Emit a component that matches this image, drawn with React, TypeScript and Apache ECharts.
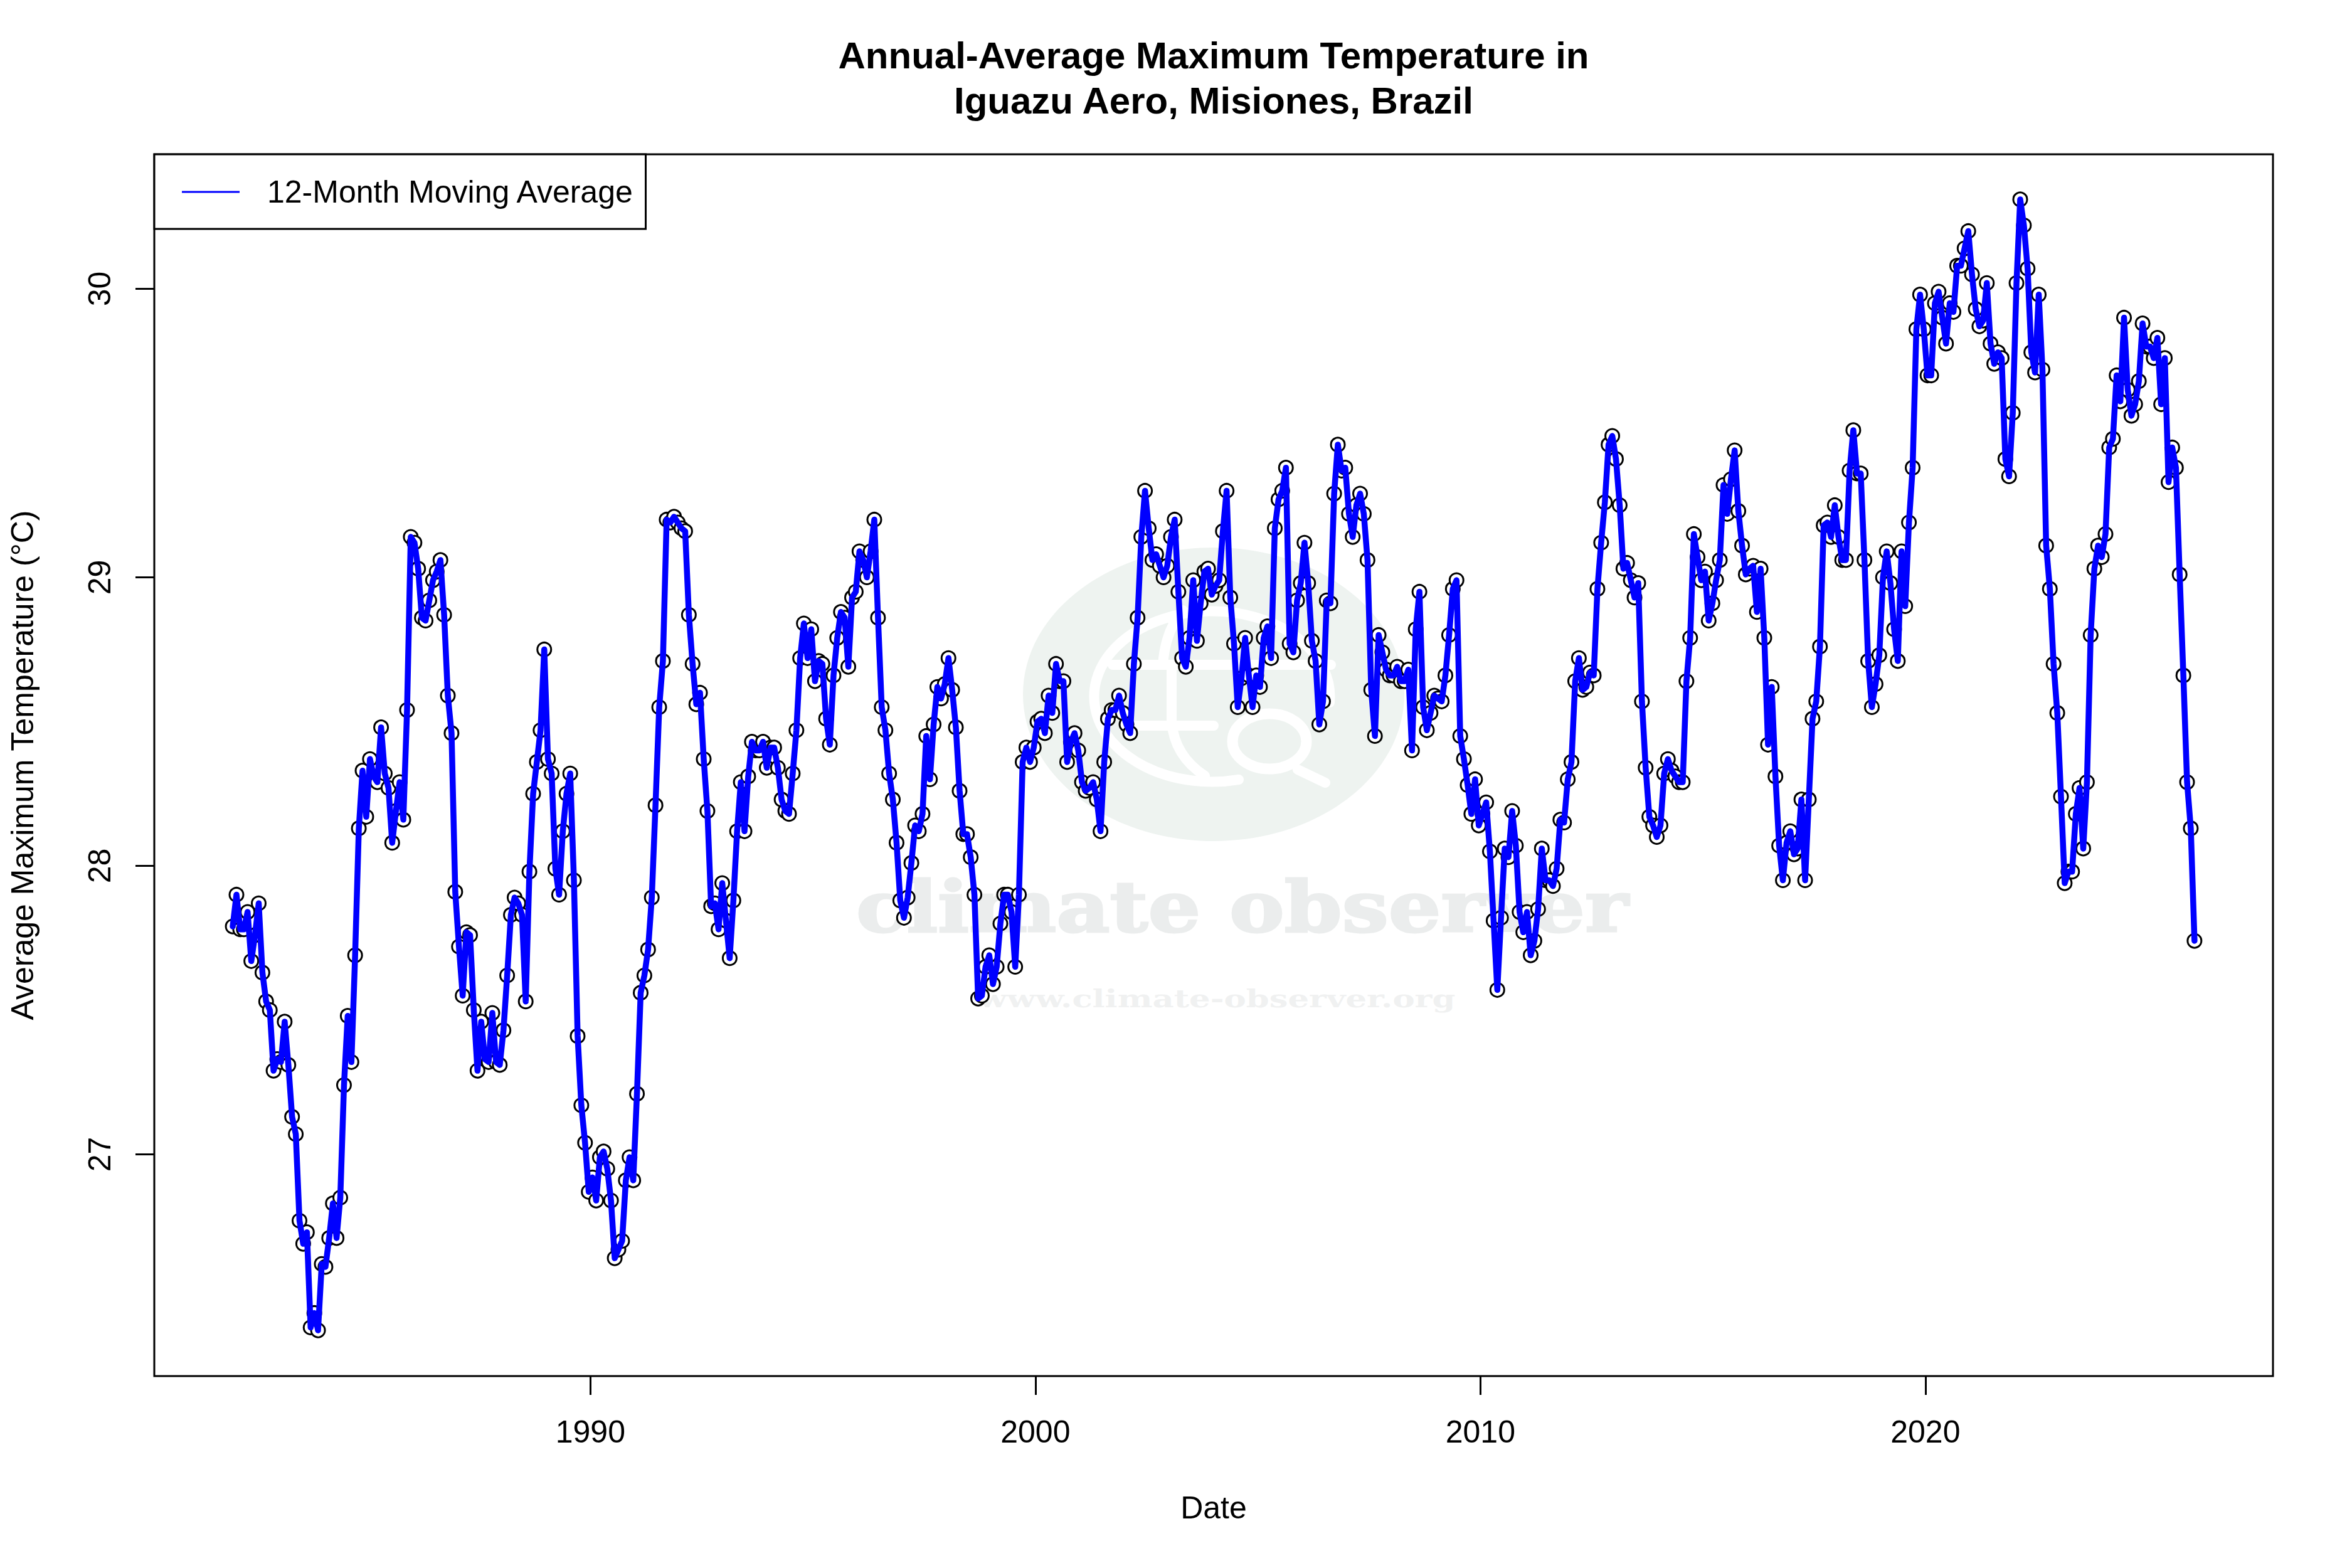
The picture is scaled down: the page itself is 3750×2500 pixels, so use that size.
import React, { useEffect, useRef } from "react";
import * as echarts from "echarts";

const titleText = "Annual-Average Maximum Temperature in\nIguazu Aero, Misiones, Brazil";
const legendLabel = "12-Month Moving Average";
const xTicks = [1990, 2000, 2010, 2020];
const yTicks = [27, 28, 29, 30];
const firstYear = 1981.963;

const temps1 = [
  27.79,27.90,27.78,27.78,27.84,27.67,27.76,27.87,27.63,27.53,27.50,27.29,
  27.33,27.32,27.46,27.31,27.13,27.07,26.77,26.69,26.73,26.40,26.45,26.39,
  26.62,26.61,26.71,26.83,26.71,26.85,27.24,27.48,27.32,27.69,28.13,28.33,
  28.17,28.37,28.31,28.29,28.48,28.32,28.27,28.08,28.19,28.29,28.16,28.54,
  29.14,29.12,29.03,28.86,28.85,28.92,28.99,29.02,29.06,28.87,28.59,28.46,
  27.91,27.72,27.55,27.77,27.76,27.50,27.29,27.46,27.33,27.32,27.49,27.32,
  27.31,27.43,27.62,27.83,27.89,27.87,27.83,27.53,27.98,28.25,28.36,28.47,
  28.75,28.37,28.32,27.99,27.90,28.12,28.25,28.32,27.95,27.41,27.17,27.04,
  26.87,26.92,26.84,26.99,27.01,26.95,26.84,26.64,26.67,26.70,26.91,26.99,
];
const temps2 = [
  26.91,27.21,27.56,27.62,27.71,27.89,28.21,28.55,28.71,29.20,29.19,29.21,
  29.19,29.17,29.16,28.87,28.70,28.56,28.60,28.37,28.19,27.86,27.87,27.78,
  27.94,27.81,27.68,27.88,28.12,28.29,28.12,28.31,28.43,28.40,28.40,28.43,
  28.34,28.41,28.41,28.34,28.23,28.19,28.18,28.32,28.47,28.72,28.84,28.72,
  28.82,28.64,28.71,28.70,28.51,28.42,28.66,28.79,28.88,28.86,28.69,28.93,
  28.95,29.09,29.06,29.00,29.09,29.20,28.86,28.55,28.47,28.32,28.23,28.08,
  27.88,27.82,27.89,28.01,28.14,28.12,28.18,28.45,28.30,28.49,28.62,28.58,
  28.63,28.72,28.61,28.48,28.26,28.11,28.11,28.03,27.90,27.54,27.55,27.65,
  27.69,27.59,27.65,27.80,27.90,27.90,27.84,27.65,27.90,28.36,28.41,28.36,
];
const temps3 = [
  28.41,28.50,28.51,28.46,28.59,28.53,28.70,28.64,28.64,28.36,28.43,28.46,
  28.40,28.29,28.26,28.27,28.29,28.23,28.12,28.36,28.51,28.54,28.54,28.59,
  28.53,28.49,28.46,28.70,28.86,29.14,29.30,29.17,29.06,29.08,29.04,29.00,
  29.04,29.14,29.20,28.95,28.72,28.69,28.79,28.99,28.78,28.91,29.02,29.03,
  28.94,28.97,28.99,29.16,29.30,28.93,28.77,28.55,28.65,28.79,28.66,28.55,
  28.66,28.62,28.79,28.83,28.72,29.17,29.27,29.30,29.38,28.77,28.74,28.92,
  28.98,29.12,28.98,28.78,28.71,28.49,28.57,28.92,28.91,29.29,29.46,29.37,
  29.38,29.22,29.14,29.25,29.29,29.22,29.06,28.61,28.45,28.80,28.74,28.68,
  28.66,28.66,28.69,28.64,28.64,28.68,28.40,28.82,28.95,28.55,28.47,28.53,
];
const temps4 = [
  28.59,28.58,28.57,28.66,28.80,28.96,28.99,28.45,28.37,28.28,28.18,28.30,
  28.14,28.18,28.22,28.05,27.81,27.57,27.82,28.06,28.03,28.19,28.07,27.84,
  27.77,27.84,27.69,27.74,27.85,28.06,27.95,27.95,27.93,27.99,28.16,28.15,
  28.30,28.36,28.64,28.72,28.61,28.62,28.67,28.66,28.96,29.12,29.26,29.46,
  29.49,29.41,29.25,29.03,29.05,28.99,28.93,28.98,28.57,28.34,28.17,28.14,
  28.10,28.14,28.32,28.37,28.33,28.31,28.29,28.29,28.64,28.79,29.15,29.07,
  28.99,29.02,28.85,28.91,28.99,29.06,29.32,29.22,29.34,29.44,29.23,29.11,
  29.01,29.03,29.04,28.88,29.03,28.79,28.42,28.62,28.31,28.07,27.95,28.08,
];
const temps5 = [
  28.12,28.04,28.06,28.23,27.95,28.23,28.51,28.57,28.76,29.18,29.19,29.14,
  29.25,29.14,29.06,29.06,29.37,29.51,29.36,29.36,29.06,28.71,28.55,28.63,
  28.73,29.00,29.09,28.98,28.82,28.71,29.09,28.90,29.19,29.38,29.86,29.98,
  29.86,29.70,29.70,29.95,29.99,29.90,29.81,29.95,29.92,30.08,30.08,30.14,
  30.20,30.05,29.93,29.87,29.89,30.02,29.81,29.74,29.78,29.76,29.41,29.35,
  29.57,30.02,30.31,30.22,30.07,29.78,29.71,29.98,29.72,29.11,28.96,28.70,
  28.53,28.24,27.94,27.98,27.98,28.18,28.27,28.06,28.29,28.80,29.03,29.11,
  29.07,29.15,29.45,29.48,29.70,29.61,29.90,29.65,29.56,29.60,29.68,29.88,
  29.80,29.80,29.76,29.83,29.60,29.76,29.33,29.45,29.38,29.01,28.66,28.29,
  28.13,27.74,
];

const temps = [...temps1, ...temps2, ...temps3, ...temps4, ...temps5];
const points = temps.map((v, i) => [firstYear + i / 12, v]);

const FONT = "Liberation Sans";
const WM = "DejaVu Serif";

echarts.graphic.registerShape(
  "logoStrokes",
  echarts.graphic.extendPath(
    "M1975 1243 A188 136 0 1 1 2120 1120 M1774 1060 L2122 1060 M1810 1157 L1935 1157 M1868 1067 L1868 1150 Q1872 1205 1921 1237 M1886 973 Q1858 1005 1854 1060 M2069 1227 L2113 1248",
    {}
  )
);

export default function App() {
  const ref = useRef<HTMLDivElement>(null);
  useEffect(() => {
    const chart = echarts.init(ref.current!, null, { renderer: "svg", width: 3750, height: 2500 });
    chart.setOption({
      animation: false,
      backgroundColor: "#ffffff",
      title: {
        text: titleText,
        left: 1930,
        top: 47,
        textAlign: "center",
        textStyle: { fontFamily: FONT, fontWeight: "bold", fontSize: 60, lineHeight: 72, color: "#000" },
      },
      legend: {
        left: 246,
        top: 246,
        data: [{ name: legendLabel, icon: "rect" }],
        orient: "horizontal",
        padding: [35, 18, 34, 44],
        itemWidth: 92,
        itemHeight: 3,
        itemGap: 0,
        borderColor: "#000",
        borderWidth: 3,
        borderRadius: 0,
        backgroundColor: "#fff",
        textStyle: { fontFamily: FONT, fontSize: 50, color: "#000", padding: [0, 0, 0, 39] },
      },
      grid: {
        left: 246, top: 246, width: 3378, height: 1948, show: true,
        borderColor: "#000", borderWidth: 3, backgroundColor: "transparent",
        outerBoundsMode: "none",
      },
      xAxis: {
        type: "value",
        min: 1980.2,
        max: 2027.81,
        name: "Date",
        nameLocation: "middle",
        nameGap: 185,
        nameTextStyle: { fontFamily: FONT, fontSize: 50, color: "#000" },
        axisLine: { show: false },
        splitLine: { show: false },
        axisTick: { show: true, length: 30, customValues: xTicks, lineStyle: { color: "#000", width: 3 } },
        axisLabel: { customValues: xTicks, margin: 64, fontFamily: FONT, fontSize: 50, color: "#000", formatter: (v: number) => String(v) },
      },
      yAxis: {
        type: "value",
        min: 26.2315,
        max: 30.4663,
        name: "Average Maximum Temperature (°C)",
        nameLocation: "middle",
        nameGap: 185,
        nameTextStyle: { fontFamily: FONT, fontSize: 50, color: "#000" },
        axisLine: { show: false },
        splitLine: { show: false },
        axisTick: { show: true, length: 30, customValues: yTicks, lineStyle: { color: "#000", width: 3 } },
        axisLabel: { customValues: yTicks, rotate: 90, margin: 62, fontFamily: FONT, fontSize: 50, color: "#000", formatter: (v: number) => String(v) },
      },
      graphic: [
        { type: "ellipse", silent: true, z: 0, shape: { cx: 1935, cy: 1107, rx: 304, ry: 234 }, style: { fill: "#EEF3F0" } },
        { type: "logoStrokes", silent: true, z: 0, style: { fill: "none", stroke: "#ffffff", lineWidth: 16, lineCap: "round" } },
        { type: "ellipse", silent: true, z: 0, shape: { cx: 2024, cy: 1182, rx: 59, ry: 44 }, style: { fill: "none", stroke: "#ffffff", lineWidth: 17 } },
        {
          type: "text", silent: true, z: 0, x: 1365, y: 1502, scaleX: 1.175,
          style: { text: "climate observer", font: `bold 112px '${WM}'`, fill: "#EBEDED", stroke: "#EBEDED", lineWidth: 3, textAlign: "left", textVerticalAlign: "bottom" },
        },
        {
          type: "text", silent: true, z: 0, x: 1560, y: 1612, scaleX: 1.32,
          style: { text: "www.climate-observer.org", font: `bold 40px '${WM}'`, fill: "#F0F1F1", textAlign: "left", textVerticalAlign: "bottom" },
        },
      ],
      series: [
        {
          name: "Monthly points",
          type: "scatter",
          data: points,
          symbol: "circle",
          symbolSize: 22,
          itemStyle: { color: "#ffffff", borderColor: "#000000", borderWidth: 3, opacity: 1 },
          silent: true,
        },
        {
          name: legendLabel,
          type: "line",
          data: points,
          symbol: "none",
          showSymbol: false,
          color: "#0000ff",
          itemStyle: { color: "#0000ff" },
          lineStyle: { color: "#0000ff", width: 9.5, cap: "round", join: "round" },
          silent: true,
        },
      ],
    });
    return () => chart.dispose();
  }, []);
  return <div ref={ref} style={{ position: "absolute", left: 0, top: 0, width: 3750, height: 2500 }} />;
}
